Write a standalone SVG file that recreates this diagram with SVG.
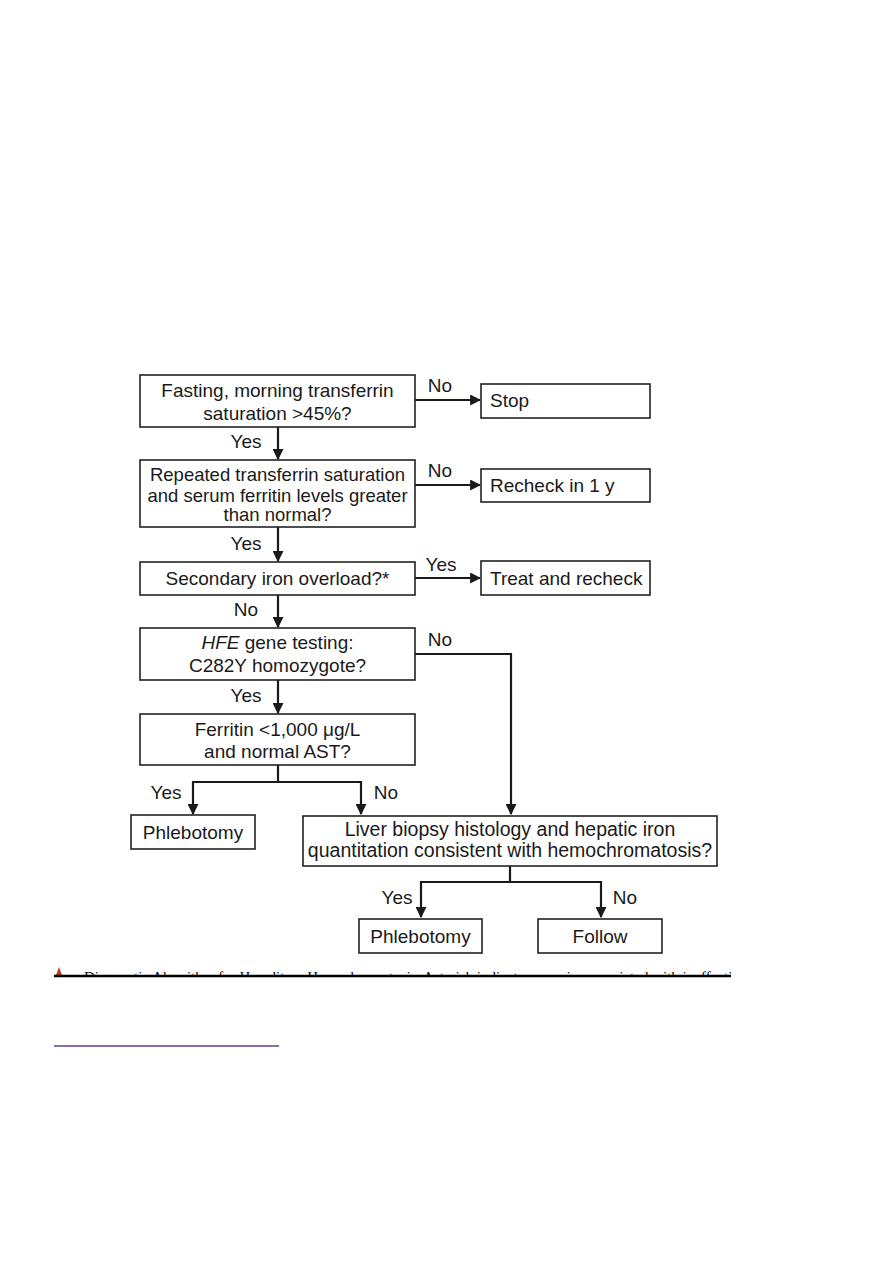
<svg xmlns="http://www.w3.org/2000/svg" width="893" height="1263" viewBox="0 0 893 1263">
<defs>
<style>
.box{fill:#fff;stroke:#222;stroke-width:1.6}
.t{font-family:"Liberation Sans",Arial,sans-serif;font-size:19px;fill:#1a1a1a}
.c{text-anchor:middle}
.s{font-size:18.5px}
.ln{fill:none;stroke:#1a1a1a;stroke-width:2.2}
.cap{font-family:"Liberation Serif","Times New Roman",serif;font-size:15px;fill:#111}
</style>
<marker id="ah" viewBox="0 0 10 10" refX="9" refY="5" markerWidth="5" markerHeight="5" orient="auto" markerUnits="strokeWidth">
<path d="M0,0 L10,5 L0,10 z" fill="#1a1a1a"/>
</marker>
<clipPath id="capclip"><rect x="40" y="966" width="720" height="9"/></clipPath>
</defs>
<rect width="893" height="1263" fill="#fff"/>

<g id="connectors">
<line class="ln" x1="278" y1="427" x2="278" y2="459" marker-end="url(#ah)"/>
<line class="ln" x1="278" y1="527" x2="278" y2="561" marker-end="url(#ah)"/>
<line class="ln" x1="278" y1="595" x2="278" y2="627" marker-end="url(#ah)"/>
<line class="ln" x1="278" y1="680" x2="278" y2="713" marker-end="url(#ah)"/>
<line class="ln" x1="415" y1="400" x2="480" y2="400" marker-end="url(#ah)"/>
<line class="ln" x1="415" y1="485" x2="480" y2="485" marker-end="url(#ah)"/>
<line class="ln" x1="415" y1="578" x2="480" y2="578" marker-end="url(#ah)"/>
<polyline class="ln" points="415,654 511,654 511,814" marker-end="url(#ah)"/>
<polyline class="ln" points="278,765 278,782 193,782 193,814" marker-end="url(#ah)"/>
<polyline class="ln" points="278,782 361,782 361,814" marker-end="url(#ah)"/>
<polyline class="ln" points="510,866 510,882 421,882 421,917" marker-end="url(#ah)"/>
<polyline class="ln" points="510,882 601,882 601,917" marker-end="url(#ah)"/>
<text class="t c" x="246" y="448">Yes</text>
<text class="t c" x="246" y="550">Yes</text>
<text class="t c" x="246" y="616">No</text>
<text class="t c" x="246" y="702">Yes</text>
<text class="t c" x="440" y="392">No</text>
<text class="t c" x="440" y="477">No</text>
<text class="t c" x="441" y="571">Yes</text>
<text class="t c" x="440" y="646">No</text>
<text class="t c" x="166" y="799">Yes</text>
<text class="t c" x="386" y="799">No</text>
<text class="t c" x="397" y="904">Yes</text>
<text class="t c" x="625" y="904">No</text>
</g>

<g id="n1"><rect class="box" x="140" y="375" width="275" height="52"/>
<text class="t c" x="277.5" y="397">Fasting, morning transferrin</text>
<text class="t c" x="277.5" y="420">saturation &gt;45%?</text></g>
<g id="n_stop"><rect class="box" x="481" y="384" width="169" height="34"/>
<text class="t" x="490" y="407">Stop</text></g>
<g id="n2"><rect class="box" x="140" y="460" width="275" height="67"/>
<text class="t c s" x="277.5" y="481">Repeated transferrin saturation</text>
<text class="t c s" x="277.5" y="502">and serum ferritin levels greater</text>
<text class="t c s" x="277.5" y="521">than normal?</text></g>
<g id="n_recheck"><rect class="box" x="481" y="469" width="169" height="33"/>
<text class="t" x="490" y="492">Recheck in 1 y</text></g>
<g id="n3"><rect class="box" x="140" y="562" width="275" height="33"/>
<text class="t c" x="277.5" y="585">Secondary iron overload?*</text></g>
<g id="n_treat"><rect class="box" x="481" y="561" width="169" height="34"/>
<text class="t" x="490" y="585">Treat and recheck</text></g>
<g id="n4"><rect class="box" x="140" y="628" width="275" height="52"/>
<text class="t c" x="277.5" y="649"><tspan font-style="italic">HFE</tspan> gene testing:</text>
<text class="t c" x="277.5" y="672">C282Y homozygote?</text></g>
<g id="n5"><rect class="box" x="140" y="714" width="275" height="51"/>
<text class="t c" x="277.5" y="736">Ferritin &lt;1,000 μg/L</text>
<text class="t c" x="277.5" y="758">and normal AST?</text></g>
<g id="n_phleb1"><rect class="box" x="131" y="815" width="124" height="34"/>
<text class="t c" x="193" y="839">Phlebotomy</text></g>
<g id="n_liver"><rect class="box" x="303" y="816" width="414" height="50"/>
<text class="t c" x="510" y="836" style="font-size:19.5px">Liver biopsy histology and hepatic iron</text>
<text class="t c" x="510" y="857" style="font-size:19.5px">quantitation consistent with hemochromatosis?</text></g>
<g id="n_phleb2"><rect class="box" x="359" y="919" width="123" height="34"/>
<text class="t c" x="420.5" y="943">Phlebotomy</text></g>
<g id="n_follow"><rect class="box" x="538" y="919" width="124" height="34"/>
<text class="t c" x="600" y="943">Follow</text></g>

<g id="caption">
<path d="M56,975 L59,967 L62,975 z" fill="#c0392b" clip-path="url(#capclip)"/>
<text class="cap" x="84" y="982" clip-path="url(#capclip)">Diagnostic Algorithm for Hereditary Hemochromatosis. Asterisk indicates anemias associated with ineffective erythropoiesis, the</text>
<line x1="54" y1="976" x2="731" y2="976" stroke="#000" stroke-width="2.5"/>
<line x1="54" y1="1046" x2="279" y2="1046" stroke="#5b3f8c" stroke-width="1.3"/>
</g>
</svg>
